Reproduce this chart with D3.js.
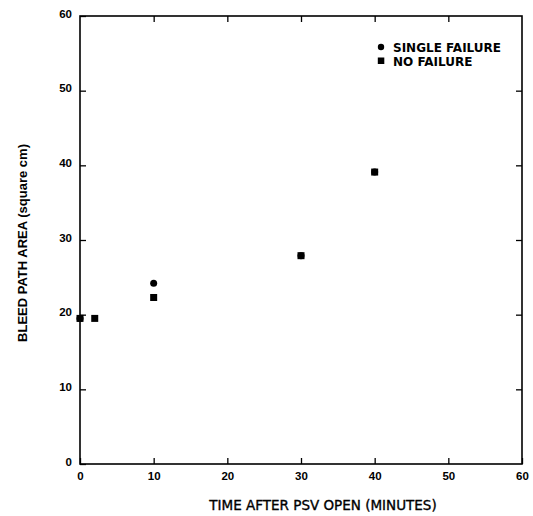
<!DOCTYPE html>
<html>
<head>
<meta charset="utf-8">
<script src="https://cdn.jsdelivr.net/npm/d3@7"></script>
<style>
  body { margin: 0; background: #fff; }
  text { font-family: "Liberation Sans", Arial, sans-serif; }
  text.wide { font-family: "DejaVu Sans", sans-serif; }
</style>
</head>
<body>
<div id="chart"></div>
<script>
  // values
  const xTicks = [0, 10, 20, 30, 40, 50, 60];
  const yTicks = [0, 10, 20, 30, 40, 50, 60];
  const singleTime = [0, 10, 30, 40];
  const singleArea = [19.5, 24.2, 27.9, 39.1];
  const noTime = [0, 2, 10, 30, 40];
  const noArea = [19.5, 19.5, 22.3, 27.9, 39.1];
  const seriesNames = ['SINGLE FAILURE', 'NO FAILURE'];

  const width = 533, height = 516;
  const margin = { top: 16, right: 11, bottom: 52, left: 80 };

  const svg = d3.select('#chart').append('svg')
    .attr('width', width)
    .attr('height', height);

  const x = d3.scaleLinear().domain([0, 60]).range([margin.left, width - margin.right]);
  const y = d3.scaleLinear().domain([0, 60]).range([height - margin.bottom, margin.top]);

  // inward ticks on all four sides
  const tickIn = 6;
  const axisStyle = g => {
    g.select('.domain').remove();
    g.selectAll('.tick line').attr('stroke', '#000').attr('stroke-width', 1.3);
    g.selectAll('.tick text')
      .attr('font-size', 11.5)
      .attr('font-weight', 'bold')
      .attr('fill', '#000');
  };

  svg.append('g')
    .attr('transform', `translate(0,${y(0)})`)
    .call(d3.axisBottom(x).tickValues(xTicks).tickSize(-tickIn).tickPadding(8))
    .call(axisStyle);

  svg.append('g')
    .attr('transform', `translate(${x(0)},0)`)
    .call(d3.axisLeft(y).tickValues(yTicks).tickSize(-tickIn).tickPadding(8))
    .call(axisStyle)
    .call(g => g.selectAll('.tick text').attr('dy', '0.1em'));

  svg.append('g')
    .attr('transform', `translate(0,${y(60)})`)
    .call(d3.axisTop(x).tickValues(xTicks.slice(1, -1)).tickSize(-tickIn).tickFormat(''))
    .call(axisStyle);

  svg.append('g')
    .attr('transform', `translate(${x(60)},0)`)
    .call(d3.axisRight(y).tickValues(yTicks.slice(1, -1)).tickSize(-tickIn).tickFormat(''))
    .call(axisStyle);

  // frame
  svg.append('rect')
    .attr('x', x(0)).attr('y', y(60))
    .attr('width', x(60) - x(0)).attr('height', y(0) - y(60))
    .attr('fill', 'none').attr('stroke', '#000').attr('stroke-width', 1.6);

  // points
  svg.append('g').selectAll('circle')
    .data(singleTime.map((t, i) => [t, singleArea[i]]))
    .join('circle')
    .attr('cx', d => x(d[0]))
    .attr('cy', d => y(d[1]))
    .attr('r', 3.5)
    .attr('fill', '#000');

  svg.append('g').selectAll('rect')
    .data(noTime.map((t, i) => [t, noArea[i]]))
    .join('rect')
    .attr('x', d => x(d[0]) - 3.5)
    .attr('y', d => y(d[1]) - 3.5)
    .attr('width', 7)
    .attr('height', 7)
    .attr('fill', '#000');

  // legend
  const legend = svg.append('g').attr('transform', 'translate(381,47)');
  legend.append('circle').attr('cx', 0).attr('cy', 0).attr('r', 3.2).attr('fill', '#000');
  legend.append('rect').attr('x', -3.2).attr('y', 10.5).attr('width', 6.5).attr('height', 6.5).attr('fill', '#000');
  legend.selectAll('text')
    .data(seriesNames)
    .join('text')
    .attr('class', 'wide')
    .attr('x', 12)
    .attr('y', (d, i) => i * 14 + 4.5)
    .attr('font-size', 12)
    .attr('font-weight', 'bold')
    .text(d => d);

  // axis titles
  svg.append('text')
    .attr('class', 'wide')
    .attr('x', 323)
    .attr('y', 510)
    .attr('text-anchor', 'middle')
    .attr('font-size', 13.5)
    .attr('stroke', '#000')
    .attr('stroke-width', 0.35)
    .text('TIME AFTER PSV OPEN (MINUTES)');

  svg.append('text')
    .attr('transform', `translate(27,243) rotate(-90)`)
    .attr('text-anchor', 'middle')
    .attr('font-size', 13)
    .attr('font-weight', 'bold')
    .text('BLEED PATH AREA (square cm)');
</script>
</body>
</html>
